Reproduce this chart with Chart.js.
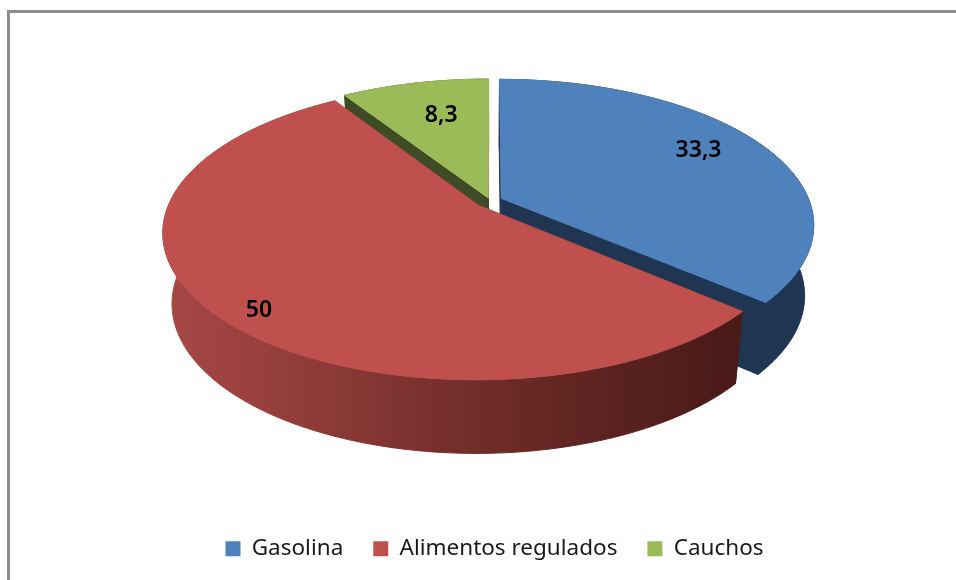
<!DOCTYPE html>
<html>
<head>
<meta charset="utf-8">
<title>Pie 3D</title>
<script src="https://cdn.jsdelivr.net/npm/chart.js@4/dist/chart.umd.min.js"></script>
<style>
  html, body { margin: 0; background: #fff; }
  #wrap { width: 956px; height: 580px; }
  #pie { filter: blur(0.4px); }
</style>
</head>
<body>
<div id="wrap"><canvas id="pie" width="956" height="580"></canvas></div>
<script>
// Data
const categories = ['Gasolina', 'Alimentos regulados', 'Cauchos'];
const values = [33.3, 50, 8.3];
const valueLabels = ['33,3', '50', '8,3'];

const topColors = ['#4F81BD', '#C0504D', '#9BBB59'];
const wallColors = ['#1F3552', '#7A2F2C', '#3F4B24'];
const explode = [4, 5, 2]; // percent of the radius

// Perspective of the pie plane
const view = { cx: 490, cy: 200.7, a: 308, b: 141.2, p: 0.18, kx: 0.972, ky: 1.02, drop: 70 };

function project(u, v) {
  const s = 1 / (1 - view.p * v);
  return [view.cx + view.a * u * s, view.cy + view.b * v * s];
}

function lower(pt) {
  return [view.cx + (pt[0] - view.cx) * view.kx, view.cy + (pt[1] - view.cy) * view.ky + view.drop];
}

function fillPoly(ctx, pts, color) {
  ctx.beginPath();
  pts.forEach((pt, i) => i ? ctx.lineTo(pt[0], pt[1]) : ctx.moveTo(pt[0], pt[1]));
  ctx.closePath();
  ctx.fillStyle = color;
  ctx.fill();
  // hide the hairline between neighbouring walls
  ctx.strokeStyle = color;
  ctx.lineWidth = 1;
  ctx.stroke();
}

// Top rim of one slice, sampled from the arc element's angles
function rimPoints(arc, offset) {
  const mid = (arc.startAngle + arc.endAngle) / 2;
  const ox = Math.cos(mid) * offset / 100, oy = Math.sin(mid) * offset / 100;
  const steps = Math.ceil((arc.endAngle - arc.startAngle) * 60);
  const rim = [];
  for (let i = 0; i <= steps; i++) {
    const t = arc.startAngle + (arc.endAngle - arc.startAngle) * i / steps;
    rim.push(project(Math.cos(t) + ox, Math.sin(t) + oy));
  }
  return { rim, tip: project(ox, oy) };
}

// Draws the slices as a solid, back ones first
const solidPie = {
  id: 'solidPie',
  beforeDraw(chart) {
    const ctx = chart.ctx;
    ctx.save();
    ctx.fillStyle = '#8C8C8C';
    ctx.fillRect(7, 10, 949, 3);
    ctx.fillRect(7, 10, 3, 570);
    ctx.restore();
  },
  beforeDatasetsDraw(chart) {
    const ctx = chart.ctx;
    const arcs = chart.getDatasetMeta(0).data;
    const order = [2, 0, 1];
    const sideGrad = ctx.createLinearGradient(165, 0, 735, 0);
    sideGrad.addColorStop(0, '#A84845');
    sideGrad.addColorStop(0.3, '#8A3936');
    sideGrad.addColorStop(0.65, '#662824');
    sideGrad.addColorStop(1, '#481A18');

    order.forEach(i => {
      const { rim, tip } = rimPoints(arcs[i], explode[i]);
      const wall = i === 1 ? sideGrad : wallColors[i];
      // radial walls
      fillPoly(ctx, [tip, rim[0], lower(rim[0]), lower(tip)], wall);
      const last = rim[rim.length - 1];
      fillPoly(ctx, [tip, last, lower(last), lower(tip)], wall);
      // outer wall
      fillPoly(ctx, rim.concat(rim.map(lower).reverse()), wall);
      // top face
      fillPoly(ctx, [tip].concat(rim), topColors[i]);
    });

    // value labels
    const spots = [[0.845, -5.4], [0.927, -3.8], [0.74, 2.6]];
    ctx.fillStyle = '#000';
    ctx.font = '600 23px "Noto Sans"';
    ctx.textAlign = 'center';
    ctx.textBaseline = 'middle';
    arcs.forEach((arc, i) => {
      const t = (arc.startAngle + arc.endAngle) / 2 + spots[i][1] * Math.PI / 180;
      const pt = project(Math.cos(t) * spots[i][0], Math.sin(t) * spots[i][0]);
      ctx.fillText(valueLabels[i], pt[0] - 1, pt[1] + 5);
    });
    return false;
  }
};

new Chart(document.getElementById('pie'), {
  type: 'pie',
  data: {
    labels: categories,
    datasets: [{ data: values, backgroundColor: topColors, borderWidth: 0, offset: explode }]
  },
  options: {
    responsive: false,
    animation: false,
    layout: { padding: { bottom: 10, left: 33 } },
    plugins: {
      tooltip: { enabled: false },
      legend: {
        position: 'bottom',
        labels: {
          boxWidth: 15,
          boxHeight: 15,
          padding: 30,
          color: '#1a1a1a',
          font: { family: 'Noto Sans', size: 22.5 }
        }
      }
    }
  },
  plugins: [solidPie]
});
</script>
</body>
</html>
